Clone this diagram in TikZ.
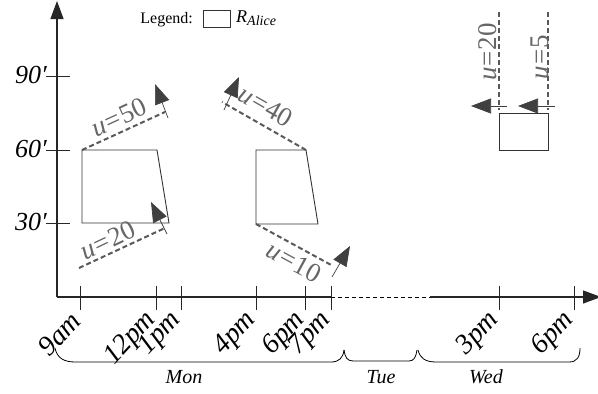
\documentclass[tikz,border=0pt]{standalone}
\usepackage{fontspec}
\setmainfont{Liberation Serif}
\usetikzlibrary{arrows.meta,calc}

\begin{document}
\begin{tikzpicture}[x=1pt,y=-1pt,
  axis/.style={line width=1.1pt, draw=black!85},
  tickmark/.style={line width=0.8pt, draw=black!85},
  region/.style={line width=0.9pt, draw=black!80},
  shiftline/.style={dash pattern=on 5pt off 3pt, line width=2pt, draw=black!65},
  push/.style={line width=0.7pt, draw=black!75,
    -{Triangle[length=20pt,width=15pt]}},
  ulabel/.style={text=black!60, font=\fontsize{27}{27}\selectfont, inner sep=0pt},
  ylab/.style={font=\fontsize{26}{26}\selectfont\itshape, inner sep=0pt, anchor=base east},
  xlab/.style={font=\fontsize{28}{28}\selectfont\itshape, inner sep=0pt, rotate=47, anchor=east},
  daylab/.style={font=\fontsize{20}{20}\selectfont\itshape, inner sep=0pt},
  bracepath/.style={line width=0.8pt, draw=black}]
\useasboundingbox (0,0) rectangle (598,394);

% axes
\coordinate (O) at (57,297);
\coordinate (ytop) at (57,1);
\coordinate (xbreakA) at (331,297);
\coordinate (xbreakB) at (430,297);
\coordinate (xend) at (601,297);
\draw[axis, -{Triangle[length=18pt,width=13pt]}] (O) -- (ytop);
\draw[axis] (O) -- (xbreakA);
\draw[line width=0.9pt, dash pattern=on 4pt off 3pt] (xbreakA) -- (xbreakB);
\draw[axis, -{Triangle[length=18pt,width=13pt]}] (xbreakB) -- (xend);

% y ticks and labels
\foreach \yy/\lab in {76/90, 150/60, 223/30}{
  \draw[tickmark] (46,\yy) -- (70,\yy);
  \node[ylab] (y\lab) at (47,\yy+7) {\lab′};
}

% x ticks and labels
\foreach \xx/\lab/\nm in {80/9am/t9, 156/12pm/t12, 181/1pm/t13, 256/4pm/t16,
    305/6pm/t18, 331/7pm/t19, 499/3pm/w15, 574/6pm/w18}{
  \draw[tickmark] (\xx,286) -- (\xx,310);
  \node[xlab] (\nm) at (\xx-4,316) {\lab};
}

% day braces
\draw[bracepath] (55,348) .. controls (57,358) and (64,362) .. (75,362)
  -- (331,362) .. controls (339,362) and (343,358) .. (344,350);
\draw[bracepath] (344,350) .. controls (345,357) and (347,361) .. (353,361)
  -- (409,361) .. controls (414,361) and (416,357) .. (417,350);
\draw[bracepath] (418,350) .. controls (420,358) and (425,362) .. (436,362)
  -- (569,362) .. controls (577,362) and (580,357) .. (580,348);
\node[daylab] (mon) at (184,377) {Mon};
\node[daylab] (tue) at (381,377) {Tue};
\node[daylab] (wed) at (486,377) {Wed};

% legend
\node[font=\fontsize{16}{16}\selectfont, inner sep=0pt, anchor=base east] (legend) at (193,23) {Legend:};
\draw[region] (203,10) rectangle (230,27);
\node[font=\fontsize{18}{18}\selectfont, inner sep=0pt, anchor=base west] (ralice) at (236,22)
  {\textit{R}\raisebox{-3pt}{\fontsize{14}{14}\selectfont\itshape Alice}};

% Monday morning region
\coordinate (atl) at (82,150);
\coordinate (atr) at (157,150);
\coordinate (abr) at (169,223);
\coordinate (abl) at (82,223);
\draw[region] (atl) -- (atr) -- (abr) -- (abl) -- cycle;

\coordinate (e50) at (165,112);
\draw[shiftline] (atl) -- (e50);
\coordinate (p50a) at (168,118);
\coordinate (p50b) at (155,84);
\draw[push] (p50a) -- (p50b);
\node[ulabel, rotate=24.6] (u50) at (119,117) {\textit{u}\kern1pt=\kern1pt50};

\coordinate (s20) at (79,268);
\coordinate (e20) at (165,228);
\draw[shiftline] (s20) -- (e20);
\coordinate (p20a) at (167,234);
\coordinate (p20b) at (151,202);
\draw[push] (p20a) -- (p20b);
\node[ulabel, rotate=25.5] (u20) at (108,240) {\textit{u}\kern1pt=\kern1pt20};

% Monday afternoon region
\coordinate (btl) at (256,150);
\coordinate (btr) at (306,150);
\coordinate (bbr) at (318,224);
\coordinate (bbl) at (256,224);
\draw[region] (btl) -- (btr) -- (bbr) -- (bbl) -- cycle;

\coordinate (e40) at (222,102);
\draw[shiftline] (btr) -- (e40);
\coordinate (p40a) at (224,110);
\coordinate (p40b) at (239,77);
\draw[push] (p40a) -- (p40b);
\node[ulabel, rotate=-29.7] (u40) at (266,106) {\textit{u}\kern1pt=\kern1pt40};

\coordinate (e10) at (333,266);
\draw[shiftline] (bbl) -- (e10);
\coordinate (p10a) at (332,277);
\coordinate (p10b) at (350,246);
\draw[push] (p10a) -- (p10b);
\node[ulabel, rotate=-28.5] (u10) at (294,262) {\textit{u}\kern1pt=\kern1pt10};

% Wednesday region
\coordinate (ctl) at (499,113);
\coordinate (cbr) at (548,150);
\draw[region] (ctl) rectangle (cbr);

\coordinate (v20top) at (499,12);
\coordinate (v20bot) at (499,110);
\draw[shiftline] (v20top) -- (v20bot);
\coordinate (q20a) at (507,106);
\coordinate (q20b) at (471,106);
\draw[push] (q20a) -- (q20b);
\node[ulabel, rotate=90] (uw20) at (488,52) {\textit{u}\kern1pt=\kern1pt20};

\coordinate (v5top) at (548,12);
\coordinate (v5bot) at (548,110);
\draw[shiftline] (v5top) -- (v5bot);
\coordinate (q5a) at (555,106);
\coordinate (q5b) at (518,106);
\draw[push] (q5a) -- (q5b);
\node[ulabel, rotate=90] (uw5) at (540,57) {\textit{u}\kern1pt=\kern1pt5};
\end{tikzpicture}
\end{document}
